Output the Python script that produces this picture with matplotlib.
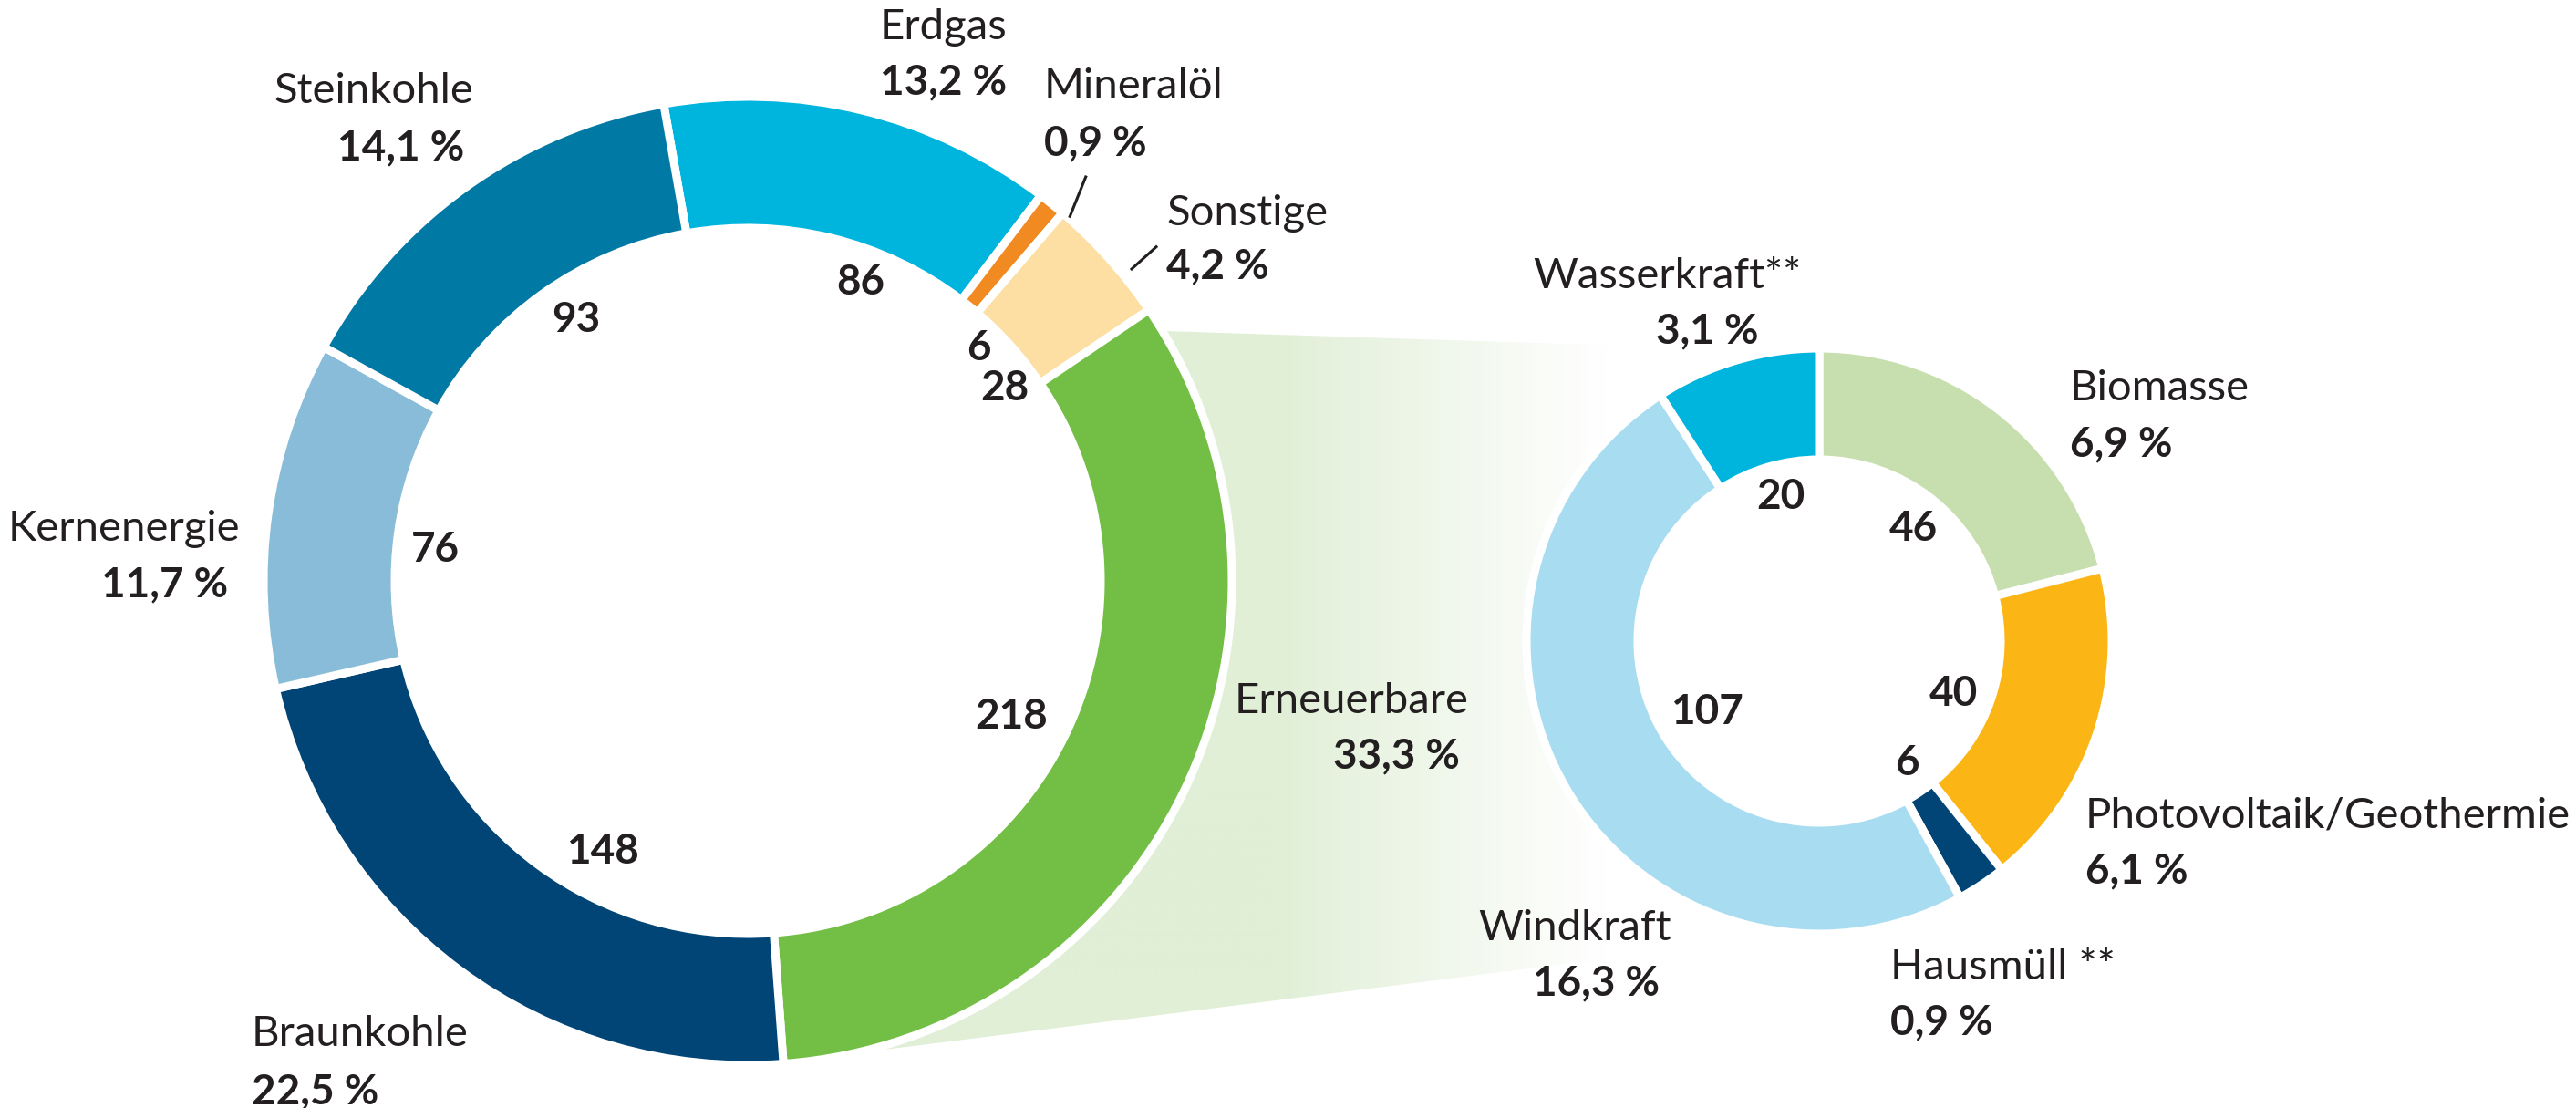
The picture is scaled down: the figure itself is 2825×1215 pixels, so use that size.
import numpy as np
import matplotlib
matplotlib.use("Agg")
import matplotlib.pyplot as plt
from matplotlib.patches import Polygon
from matplotlib.colors import to_rgb

plt.rcParams["font.family"] = ["Lato", "DejaVu Sans"]

W, H = 2825, 1215
TXT = "#231F20"

# Bruttostromerzeugung (TWh) - grosser Ring, im Uhrzeigersinn ab oben
main_labels = ["Erdgas", "Mineralöl", "Sonstige", "Erneuerbare",
               "Braunkohle", "Kernenergie", "Steinkohle"]
main_values = [86, 6, 28, 218, 148, 76, 93]
main_shares = ["13,2 %", "0,9 %", "4,2 %", "33,3 %", "22,5 %", "11,7 %", "14,1 %"]
main_colors = ["#00B5DD", "#F18A21", "#FDDEA3", "#73BF45",
               "#004576", "#88BCD8", "#0079A4"]

# Aufteilung der Erneuerbaren - kleiner Ring
ren_labels = ["Biomasse", "Photovoltaik/Geothermie", "Hausmüll **",
              "Windkraft", "Wasserkraft**"]
ren_values = [46, 40, 6, 107, 20]
ren_shares = ["6,9 %", "6,1 %", "0,9 %", "16,3 %", "3,1 %"]
ren_colors = ["#C7DFAE", "#FBB616", "#004576", "#A8DDF1", "#00B5DD"]

# layout in image pixels (x, y from top)
main_center, main_r, main_w = (820, 637), 531, 144
ren_center, ren_r, ren_w = (1995, 703), 321, 122
gap_lw = 6.5

# name label: (x, baseline, ha), share label: (x, baseline, ha), value centre
main_name_pos = [(965, 43, "left"), (1145, 108, "left"), (1279, 247, "left"),
                 (1611, 782, "right"), (276, 1147, "left"),
                 (136, 593, "center"), (410, 113, "center")]
main_share_pos = [(965, 103, "left"), (1145, 170, "left"), (1279, 305, "left"),
                  (1601, 842, "right"), (276, 1210, "left"),
                  (181, 654, "center"), (440, 175, "center")]
main_value_pos = [(944, 307), (1073, 379), (1102, 423), (1109, 783),
                  (661, 931), (477, 600), (632, 348)]

ren_name_pos = [(2270, 439, "left"), (2287, 907, "left"), (2073, 1074, "left"),
                (1833, 1031, "right"), (1828, 316, "center")]
ren_share_pos = [(2270, 500, "left"), (2287, 968, "left"), (2073, 1134, "left"),
                 (1820, 1091, "right"), (1872, 376, "center")]
ren_value_pos = [(2098, 577), (2142, 758), (2091, 834), (1872, 778), (1953, 542)]

leaders = [((1190.7, 194), (1173.3, 237.3)), ((1268, 270.7), (1241, 295))]


def fy(y):
    return H - y


fig = plt.figure(figsize=(W / 100, H / 100), dpi=100)
ax = fig.add_axes([0, 0, 1, 1])

# connecting fan from the green wedge to the small ring
cx, cy = main_center[0], fy(main_center[1])
a_top, a_bot = np.deg2rad(30.9), np.deg2rad(-73.7)
arc = np.linspace(a_bot, a_top, 40)
pts = [(1277, fy(363)), (1995, fy(386)), (1995, fy(1022)), (970, fy(1151))]
pts += [(cx + 470 * np.cos(t), cy + 470 * np.sin(t)) for t in arc]
fan = Polygon(pts, closed=True, transform=ax.transData, fc="none", ec="none")

xs = np.linspace(900, 2000, 600)
fan_rgb = np.array(to_rgb("#E1EFD7"))
t = np.clip((xs - 1400) / (1760 - 1400), 0, 1)[:, None]
grad = (fan_rgb * (1 - t) + np.ones(3) * t)[None, :, :]
im = ax.imshow(grad, extent=(900, 2000, fy(1170), fy(340)),
               aspect="auto", zorder=0, interpolation="bilinear")
im.set_clip_path(fan)

ax.pie(main_values, colors=main_colors, startangle=100, counterclock=False,
       radius=main_r, center=(cx, cy), frame=False,
       wedgeprops=dict(width=main_w, edgecolor="white", linewidth=gap_lw))
ax.pie(ren_values, colors=ren_colors, startangle=90, counterclock=False,
       radius=ren_r, center=(ren_center[0], fy(ren_center[1])), frame=False,
       wedgeprops=dict(width=ren_w, edgecolor="white", linewidth=gap_lw))


def put_labels(names, shares, values, name_pos, share_pos, value_pos):
    for name, share, val, npos, spos, vpos in zip(names, shares, values,
                                                   name_pos, share_pos, value_pos):
        ax.text(npos[0], fy(npos[1]), name, ha=npos[2], va="baseline",
                fontsize=34, color=TXT, zorder=5)
        ax.text(spos[0], fy(spos[1]), share, ha=spos[2], va="baseline",
                fontsize=33, fontweight="bold", color=TXT, zorder=5)
        ax.text(vpos[0], fy(vpos[1] + 16), f"{val}", ha="center", va="baseline",
                fontsize=33, fontweight="bold", color=TXT, zorder=5)


put_labels(main_labels, main_shares, main_values,
           main_name_pos, main_share_pos, main_value_pos)
put_labels(ren_labels, ren_shares, ren_values,
           ren_name_pos, ren_share_pos, ren_value_pos)

for (x0, y0), (x1, y1) in leaders:
    ax.plot([x0, x1], [fy(y0), fy(y1)], color=TXT, lw=2.2, zorder=5)

ax.set_xlim(0, W)
ax.set_ylim(0, H)
ax.set_aspect("auto")
ax.axis("off")

fig.savefig("out.png", dpi=100, facecolor="white")
plt.close(fig)
